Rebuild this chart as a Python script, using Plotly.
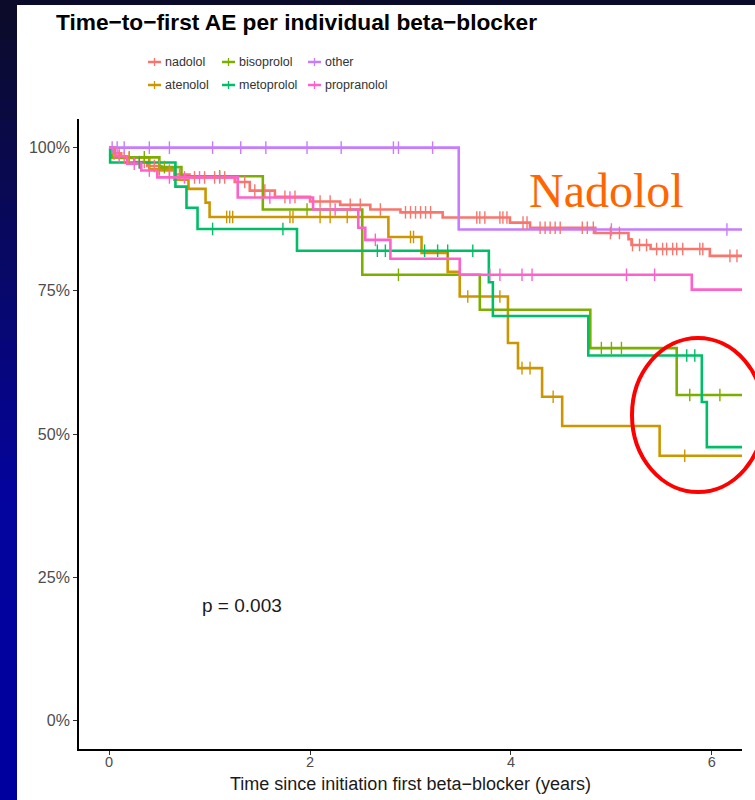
import numpy as np
import plotly.graph_objects as go

# ---------------- data ----------------
drugs = ["nadolol", "atenolol", "bisoprolol", "metoprolol", "other", "propranolol"]
colors = {"nadolol": "#F8766D", "atenolol": "#CD9600", "bisoprolol": "#7CAE00",
          "metoprolol": "#00BE67", "other": "#C77CFF", "propranolol": "#FF61CC"}

nadolol_t = [0, 0.04, 0.12, 0.25, 0.38, 0.52, 0.66, 0.8, 1.25, 1.4, 1.65, 2.0, 2.3, 2.6, 2.9,
             3.32, 3.99, 4.19, 4.84, 5.17, 5.2, 5.39, 5.98]
nadolol_s = [1.0, 0.99, 0.982, 0.975, 0.968, 0.96, 0.953, 0.948, 0.94, 0.925, 0.914, 0.906, 0.9,
             0.892, 0.887, 0.878, 0.869, 0.86, 0.851, 0.84, 0.83, 0.823, 0.811]
nadolol_c = [0.05, 0.1, 0.15, 0.2, 0.3, 0.35, 0.45, 0.5, 0.6, 0.7, 0.85, 0.95, 1.05, 1.15, 1.35,
             1.45, 1.55, 1.75, 1.85, 2.1, 2.2, 2.4, 2.5, 2.7, 2.95, 3.0, 3.05, 3.1, 3.15, 3.2,
             3.66, 3.69, 3.74, 3.89, 3.92, 3.96, 4.12, 4.16, 4.29, 4.34, 4.39, 4.44, 4.49, 4.71,
             4.76, 4.82, 4.99, 5.08, 5.21, 5.28, 5.35, 5.45, 5.51, 5.55, 5.61, 5.65, 5.71, 5.88,
             5.91, 6.18, 6.25]

atenolol_t = [0, 0.03, 0.4, 0.65, 0.79, 0.96, 1.0, 2.78, 3.11, 3.37, 3.49, 3.97, 4.07, 4.31, 4.51, 5.48]
atenolol_s = [1.0, 0.983, 0.962, 0.944, 0.928, 0.904, 0.879, 0.844, 0.816, 0.783, 0.74, 0.659,
              0.615, 0.565, 0.514, 0.462]
atenolol_c = [0.2, 0.5, 1.17, 1.2, 1.23, 1.8, 1.83, 2.1, 2.2, 2.37, 3.0, 3.03, 3.57, 3.89,
              4.11, 4.19, 4.42, 5.73]

bisoprolol_t = [0, 0.02, 0.5, 0.72, 1.53, 2.52, 3.69, 4.79, 5.65]
bisoprolol_s = [1.0, 0.983, 0.966, 0.95, 0.892, 0.778, 0.717, 0.65, 0.568]
bisoprolol_c = [0.35, 0.55, 1.1, 1.97, 2.88, 4.9, 5.0, 5.1, 5.78, 6.08]

metoprolol_t = [0, 0.01, 0.66, 0.77, 0.88, 1.87, 3.78, 3.82, 4.77, 5.9, 5.95]
metoprolol_s = [1.0, 0.974, 0.932, 0.895, 0.858, 0.82, 0.765, 0.706, 0.637, 0.556, 0.477]
metoprolol_c = [0.3, 1.03, 1.73, 2.67, 2.75, 3.14, 3.27, 3.37, 3.62, 5.75, 5.83]

other_t = [0, 3.48]
other_s = [1.0, 0.857]
other_c = [0.03, 0.08, 0.15, 0.4, 0.6, 1.03, 1.31, 1.56, 1.97, 2.31, 2.83, 2.88, 3.22, 5.0, 6.15]

propranolol_t = [0, 0.06, 0.18, 0.32, 0.48, 1.28, 2.03, 2.48, 2.55, 2.8, 3.49, 5.8]
propranolol_s = [1.0, 0.985, 0.972, 0.96, 0.948, 0.913, 0.892, 0.86, 0.839, 0.806, 0.778, 0.752]
propranolol_c = [0.1, 0.25, 0.4, 0.6, 0.75, 0.9, 1.1, 1.6, 1.8, 2.25, 2.65, 3.79, 3.89, 4.11,
                 4.21, 5.15, 5.43]

series = {
    "nadolol": (nadolol_t, nadolol_s, nadolol_c),
    "atenolol": (atenolol_t, atenolol_s, atenolol_c),
    "bisoprolol": (bisoprolol_t, bisoprolol_s, bisoprolol_c),
    "metoprolol": (metoprolol_t, metoprolol_s, metoprolol_c),
    "other": (other_t, other_s, other_c),
    "propranolol": (propranolol_t, propranolol_s, propranolol_c),
}
t_end = 6.3
x_ticks = [0, 2, 4, 6]
y_ticks = [0, 0.25, 0.5, 0.75, 1.0]
y_tick_labels = ["0%", "25%", "50%", "75%", "100%"]
legend_rows = [["nadolol", "bisoprolol", "other"], ["atenolol", "metoprolol", "propranolol"]]
title = "Time\u2212to\u2212first AE per individual beta\u2212blocker"
x_title = "Time since initiation first beta\u2212blocker (years)"
pval_text = "p = 0.003"

# ---------------- figure ----------------
fig = go.Figure()
for name in drugs:
    t, s, c = series[name]
    fig.add_trace(go.Scatter(x=list(t) + [t_end], y=list(s) + [s[-1]], mode="lines",
                             line=dict(color=colors[name], width=2.6, shape="hv"),
                             showlegend=False, name=name, hoverinfo="skip"))
for name in drugs:
    t, s, c = series[name]
    idx = np.searchsorted(np.array(t), np.array(c), side="right") - 1
    cy = [s[i] for i in idx]
    fig.add_trace(go.Scatter(x=c, y=cy, mode="markers", showlegend=False, hoverinfo="skip",
                             marker=dict(symbol="line-ns", size=9,
                                         line=dict(color=colors[name], width=1.4))))

L, R, T, B = 79, 13, 119, 51
W, H = 755, 800
pw, ph = W - L - R, H - T - B

def px_x(px):
    return (px - L) / pw

def px_y(py):
    return (H - B - py) / ph

shapes = []
# background: dark strips and white panel
n_bands = 40
for i in range(n_bands):
    f = i / (n_bands - 1)
    r = int(12 * (1 - f))
    g = int(12 * (1 - f))
    b = int(42 + (158 - 42) * min(1, f * 1.6))
    shapes.append(dict(type="rect", xref="paper", yref="paper", layer="below",
                       x0=px_x(0), x1=px_x(17.5), y0=px_y(H * (i + 1) / n_bands + 1),
                       y1=px_y(H * i / n_bands), fillcolor=f"rgb({r},{g},{b})", line_width=0))
shapes.append(dict(type="rect", xref="paper", yref="paper", layer="below",
                   x0=px_x(17), x1=px_x(W + 2), y0=px_y(H + 2), y1=px_y(5),
                   fillcolor="white", line_width=0))
# red ellipse highlight
shapes.append(dict(type="circle", xref="paper", yref="paper", x0=px_x(632), x1=px_x(764),
                   y0=px_y(492), y1=px_y(338), line=dict(color="#FF0000", width=4)))

annotations = []
annotations.append(dict(text="<b>" + title + "</b>", xref="paper", yref="paper", x=px_x(54),
                        y=px_y(22), xanchor="left", yanchor="middle", showarrow=False,
                        font=dict(family="Liberation Sans, Arial", size=22.7, color="black")))
annotations.append(dict(text="Nadolol", xref="paper", yref="paper", x=px_x(606), y=px_y(190),
                        xanchor="center", yanchor="middle", showarrow=False,
                        font=dict(family="Liberation Serif, Times New Roman", size=48,
                                  color="#FF6600")))
annotations.append(dict(text=pval_text, x=0.9, y=0.2, xref="x", yref="y", xanchor="left",
                        yanchor="middle", showarrow=False,
                        font=dict(family="Liberation Sans, Arial", size=19, color="#1a1a1a")))
annotations.append(dict(text=x_title, xref="paper", yref="paper", x=0.5, y=px_y(784),
                        xanchor="center", yanchor="middle", showarrow=False,
                        font=dict(family="Liberation Sans, Arial", size=18, color="#1a1a1a")))

# manual legend
col_px = [148, 222, 308]
row_py = [62, 85]
for ri, row in enumerate(legend_rows):
    for ci, name in enumerate(row):
        x0 = col_px[ci]
        yy = row_py[ri]
        shapes.append(dict(type="line", xref="paper", yref="paper", x0=px_x(x0), x1=px_x(x0 + 13),
                           y0=px_y(yy), y1=px_y(yy), line=dict(color=colors[name], width=2.5)))
        shapes.append(dict(type="line", xref="paper", yref="paper", x0=px_x(x0 + 6.5),
                           x1=px_x(x0 + 6.5), y0=px_y(yy - 4), y1=px_y(yy + 4),
                           line=dict(color=colors[name], width=1.3)))
        annotations.append(dict(text=name, xref="paper", yref="paper", x=px_x(x0 + 15),
                                y=px_y(yy), xanchor="left", yanchor="middle", showarrow=False,
                                font=dict(family="Liberation Sans, Arial", size=12.5,
                                          color="#333333")))

fig.update_layout(
    width=W, height=H,
    margin=dict(l=L, r=R, t=T, b=B, autoexpand=False),
    paper_bgcolor="#0a0a2a", plot_bgcolor="white",
    shapes=shapes, annotations=annotations,
    font=dict(family="Liberation Sans, Arial"),
    xaxis=dict(range=[-0.3, 6.3], tickvals=x_ticks, ticks="outside", ticklen=4,
               tickcolor="#333333", showgrid=False, zeroline=False, showline=True,
               linecolor="black", linewidth=1.8, automargin=False, ticklabelstandoff=-5,
               tickfont=dict(size=14.5, color="#4D4D4D")),
    yaxis=dict(range=[-0.05, 1.05], tickvals=y_ticks, ticktext=y_tick_labels, ticks="outside",
               ticklen=4, tickcolor="#333333", showgrid=False, zeroline=False, showline=True,
               linecolor="black", linewidth=1.8, automargin=False,
               tickfont=dict(size=16, color="#4D4D4D")),
)

fig.write_html("out.html", config={"displayModeBar": False},
               post_script="document.body.style.margin='0';document.body.style.padding='0';")
